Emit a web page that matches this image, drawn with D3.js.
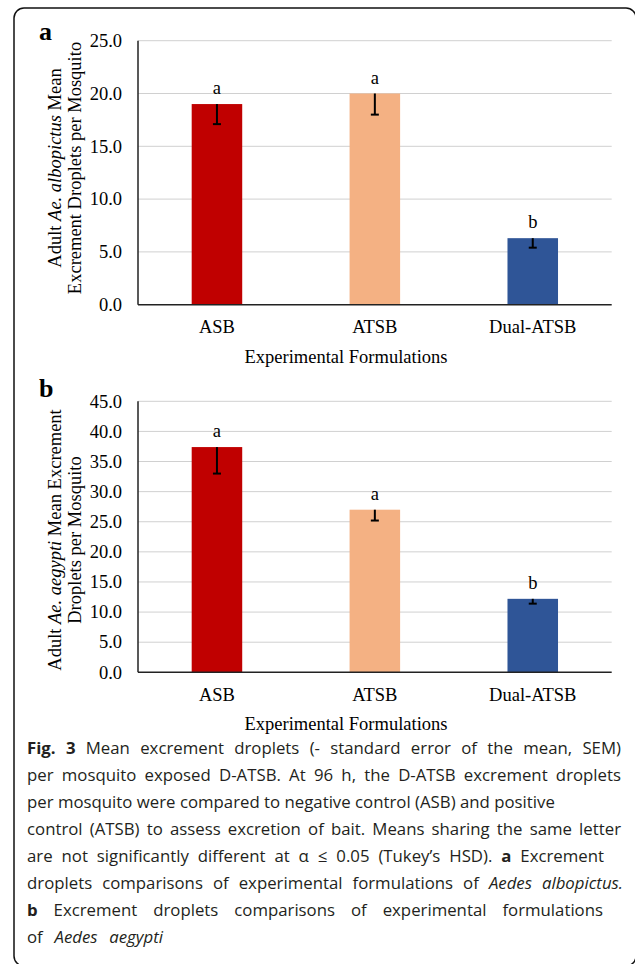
<!DOCTYPE html>
<html>
<head>
<meta charset="utf-8">
<script src="https://cdn.jsdelivr.net/npm/d3@7"></script>
<style>
  body { margin: 0; background: #fff; }
  .chart text { font-family: "Liberation Serif", "Times New Roman", serif; fill: #000; }
  .caption text { font-family: "Open Sans", "Noto Sans", sans-serif; fill: #231f20; }
</style>
</head>
<body>
<svg id="fig" width="635" height="964"></svg>
<script>
// data
const formulations = ['ASB', 'ATSB', 'Dual-ATSB'];
const barColors = ['#C00000', '#F4B183', '#2F5597'];

const albopictusMeans = [19.0, 20.0, 6.3];
const albopictusSem = [1.9, 2.0, 0.9];
const albopictusLetters = ['a', 'a', 'b'];
const albopictusTicks = [0, 5, 10, 15, 20, 25];

const aegyptiMeans = [37.4, 27.0, 12.2];
const aegyptiSem = [4.4, 1.8, 0.8];
const aegyptiLetters = ['a', 'a', 'b'];
const aegyptiTicks = [0, 5, 10, 15, 20, 25, 30, 35, 40, 45];

const svg = d3.select('#fig');

// rounded frame round the figure
svg.append('rect')
  .attr('x', 14).attr('y', 8)
  .attr('width', 622).attr('height', 958)
  .attr('rx', 10)
  .attr('fill', 'none')
  .attr('stroke', '#111')
  .attr('stroke-width', 1.5);

const left = 138, right = 611.7;

function drawPanel(cfg) {
  const g = svg.append('g').attr('class', 'chart');

  const x = d3.scaleBand()
    .domain(formulations)
    .range([left, right])
    .paddingInner(0.68)
    .paddingOuter(0.34);

  const y = d3.scaleLinear()
    .domain([0, d3.max(cfg.ticks)])
    .range([cfg.bottom, cfg.top]);

  // gridlines
  g.append('g')
    .selectAll('line')
    .data(cfg.ticks.filter(t => t > 0))
    .join('line')
    .attr('x1', left).attr('x2', right)
    .attr('y1', d => y(d)).attr('y2', d => y(d))
    .attr('stroke', '#d0d0d0')
    .attr('stroke-width', 1);

  // y tick labels
  g.append('g')
    .selectAll('text')
    .data(cfg.ticks)
    .join('text')
    .attr('x', left - 16)
    .attr('y', d => y(d))
    .attr('dy', '0.34em')
    .attr('text-anchor', 'end')
    .style('font-size', '18.5px')
    .text(d3.format('.1f'));

  // bars
  const rows = formulations.map((f, i) => ({
    f, mean: cfg.means[i], sem: cfg.sem[i], letter: cfg.letters[i], color: barColors[i]
  }));

  g.append('g')
    .selectAll('rect')
    .data(rows)
    .join('rect')
    .attr('x', d => x(d.f))
    .attr('width', x.bandwidth())
    .attr('y', d => y(d.mean))
    .attr('height', d => y(0) - y(d.mean))
    .attr('fill', d => d.color);

  // error bars (minus side only)
  const eb = g.append('g').attr('stroke', '#000').attr('stroke-width', 2);
  eb.selectAll('.stem')
    .data(rows)
    .join('line')
    .attr('class', 'stem')
    .attr('x1', d => x(d.f) + x.bandwidth() / 2)
    .attr('x2', d => x(d.f) + x.bandwidth() / 2)
    .attr('y1', d => y(d.mean))
    .attr('y2', d => y(d.mean - d.sem));
  eb.selectAll('.cap')
    .data(rows)
    .join('line')
    .attr('class', 'cap')
    .attr('x1', d => x(d.f) + x.bandwidth() / 2 - 4)
    .attr('x2', d => x(d.f) + x.bandwidth() / 2 + 4)
    .attr('y1', d => y(d.mean - d.sem))
    .attr('y2', d => y(d.mean - d.sem));

  // letters above bars
  g.append('g')
    .selectAll('text')
    .data(rows)
    .join('text')
    .attr('x', d => x(d.f) + x.bandwidth() / 2)
    .attr('y', d => y(d.mean) - 10)
    .attr('text-anchor', 'middle')
    .style('font-size', '18.5px')
    .text(d => d.letter);

  // axes lines
  g.append('line')
    .attr('x1', left).attr('x2', left)
    .attr('y1', cfg.top).attr('y2', cfg.bottom)
    .attr('stroke', '#222').attr('stroke-width', 1.5);
  g.append('line')
    .attr('x1', left).attr('x2', right)
    .attr('y1', cfg.bottom).attr('y2', cfg.bottom)
    .attr('stroke', '#222').attr('stroke-width', 1.5);

  // x tick labels
  g.append('g')
    .selectAll('text')
    .data(formulations)
    .join('text')
    .attr('x', d => x(d) + x.bandwidth() / 2)
    .attr('y', cfg.bottom + 28.5)
    .attr('text-anchor', 'middle')
    .style('font-size', '18.5px')
    .text(d => d);

  // x title
  g.append('text')
    .attr('x', 346)
    .attr('y', cfg.bottom + 58)
    .attr('text-anchor', 'middle')
    .style('font-size', '18.5px')
    .text('Experimental Formulations');

  // y title, two lines
  cfg.yTitle.forEach((line, i) => {
    const t = g.append('text')
      .attr('transform', `translate(${61 + i * 19.5}, ${cfg.titleMid}) rotate(-90)`)
      .attr('text-anchor', 'middle')
      .style('font-size', '18.5px');
    line.forEach(seg => {
      t.append('tspan')
        .style('font-style', seg[1] ? 'italic' : 'normal')
        .text(seg[0]);
    });
  });

  // panel letter
  g.append('text')
    .attr('x', 39)
    .attr('y', cfg.letterY)
    .style('font-size', '26px')
    .style('font-weight', 'bold')
    .text(cfg.panel);
}

drawPanel({
  panel: 'a', letterY: 40,
  top: 40.7, bottom: 304.7, ticks: albopictusTicks,
  means: albopictusMeans, sem: albopictusSem, letters: albopictusLetters,
  titleMid: 168,
  yTitle: [
    [['Adult ', false], ['Ae. albopictus', true], [' Mean', false]],
    [['Excrement Droplets per Mosquito', false]]
  ]
});

drawPanel({
  panel: 'b', letterY: 397,
  top: 401.3, bottom: 672.3, ticks: aegyptiTicks,
  means: aegyptiMeans, sem: aegyptiSem, letters: aegyptiLetters,
  titleMid: 540,
  yTitle: [
    [['Adult ', false], ['Ae. aegypti', true], [' Mean Excrement', false]],
    [['Droplets per Mosquito', false]]
  ]
});

// caption: segments are [text, style]; style b = bold, i = italic
const captionLines = [
  [['Fig. 3', 'b'], ['Mean excrement droplets (- standard error of the mean, SEM)', 'n']],
  [['per mosquito exposed D-ATSB. At 96 h, the D-ATSB excrement droplets', 'n']],
  [['per mosquito were compared to negative control (ASB) and positive', 'n']],
  [['control (ATSB) to assess excretion of bait. Means sharing the same letter', 'n']],
  [['are not significantly different at α ≤ 0.05 (Tukey\u2019s HSD).', 'n'], ['a', 'b'], ['Excrement', 'n']],
  [['droplets comparisons of experimental formulations of', 'n'], ['Aedes albopictus.', 'i']],
  [['b', 'b'], ['Excrement droplets comparisons of experimental formulations', 'n']],
  [['of', 'n'], ['Aedes aegypti', 'i']]
];
const captionRight = [621, 621, null, 621, 604, 623, 603, 163];

const cap = svg.append('g').attr('class', 'caption');
const capSize = 16.8, capLeft = 27, capBase = 754, capLead = 27;

captionLines.forEach((line, li) => {
  const words = [];
  line.forEach(seg => seg[0].split(' ').forEach(w => words.push({ w, s: seg[1] })));
  const nodes = words.map(d => cap.append('text')
    .attr('y', capBase + li * capLead)
    .style('font-size', capSize + 'px')
    .style('font-weight', d.s === 'b' ? 'bold' : 'normal')
    .style('font-style', d.s === 'i' ? 'italic' : 'normal')
    .text(d.w));
  const widths = nodes.map(n => n.node().getComputedTextLength());
  const total = d3.sum(widths);
  let gap = capSize * 0.26;
  if (captionRight[li] && words.length > 1) {
    gap = (captionRight[li] - capLeft - total) / (words.length - 1);
  }
  let cx = capLeft;
  nodes.forEach((n, i) => {
    n.attr('x', cx);
    cx += widths[i] + gap;
  });
});
</script>
</body>
</html>
